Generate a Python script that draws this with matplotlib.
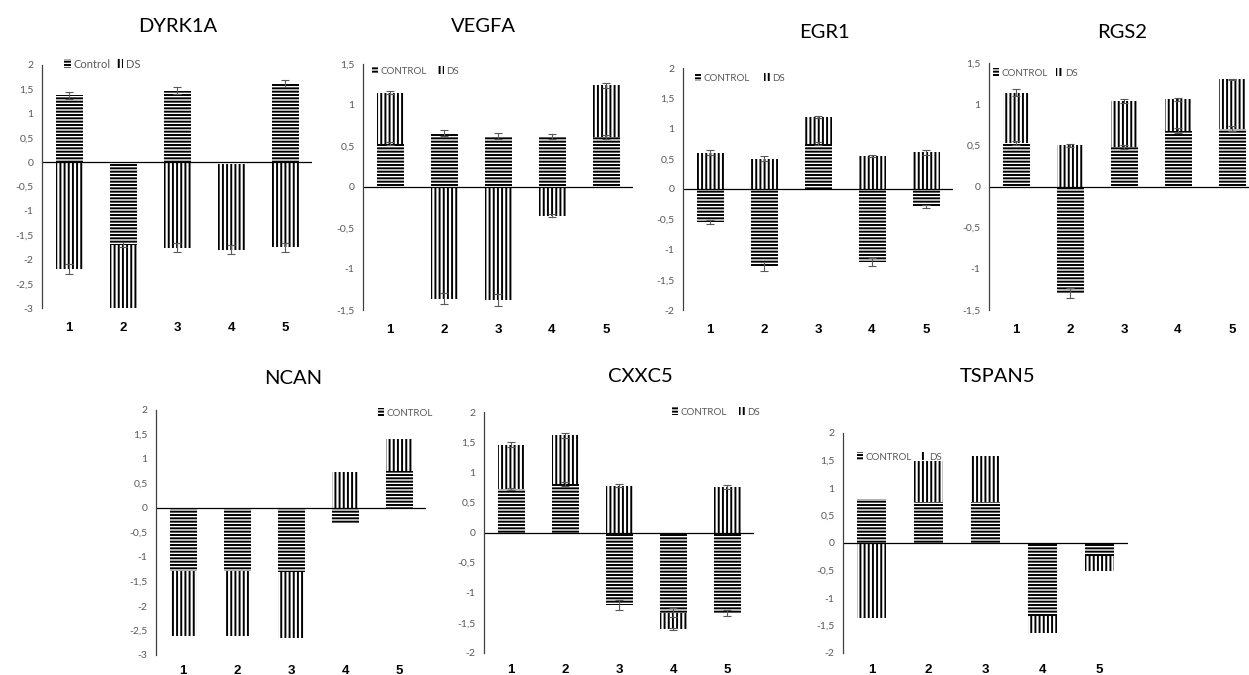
import matplotlib
matplotlib.use('Agg')
import matplotlib.pyplot as plt
from matplotlib.patches import Patch
import numpy as np

plt.rcParams['font.family'] = ['Lato', 'DejaVu Sans']
plt.rcParams['hatch.linewidth'] = 1.4

groups = ['1', '2', '3', '4', '5']

# values (Control = horizontal hatch, DS = vertical hatch)
dyrk1a_ctrl = [1.38, -1.70, 1.47, -0.03, 1.62]
dyrk1a_ds = [-2.20, -1.32, -1.76, -1.77, -1.75]
dyrk1a_ctrl_err = [0.07, 0.05, 0.07, 0, 0.08]
dyrk1a_ds_err = [0.10, 0, 0.09, 0.09, 0.09]

vegfa_ctrl = [0.53, 0.66, 0.62, 0.62, 0.61]
vegfa_ds = [0.62, -1.36, -1.38, -0.35, 0.63]
vegfa_ctrl_err = [0.02, 0.035, 0.04, 0.03, 0.02]
vegfa_ds_err = [0.02, 0.065, 0.07, 0.02, 0.03]

egr1_ctrl = [-0.55, -1.28, 0.75, -1.21, -0.29]
egr1_ds = [0.60, 0.50, 0.44, 0.55, 0.61]
egr1_ctrl_err = [0.03, 0.07, 0.03, 0.07, 0.02]
egr1_ds_err = [0.04, 0.04, 0.02, 0.02, 0.04]

rgs2_ctrl = [0.53, -1.29, 0.48, 0.68, 0.70]
rgs2_ds = [0.61, 0.50, 0.56, 0.38, 0.60]
rgs2_ctrl_err = [0.02, 0.06, 0.03, 0.03, 0.03]
rgs2_ds_err = [0.04, 0.02, 0.02, 0.02, 0.01]

ncan_ctrl = [-1.28, -1.29, -1.31, -0.33, 0.76]
ncan_ds = [-1.34, -1.32, -1.35, 0.73, 0.65]

cxxc5_ctrl = [0.72, 0.80, -1.20, -1.33, -1.33]
cxxc5_ds = [0.74, 0.81, 0.78, -0.27, 0.76]
cxxc5_ctrl_err = [0.02, 0.03, 0.08, 0.07, 0.05]
cxxc5_ds_err = [0.04, 0.04, 0.03, 0.02, 0.03]

tspan5_ctrl = [0.80, 0.75, 0.75, -1.32, -0.23]
tspan5_ds = [-1.36, 0.75, 0.83, -0.32, -0.27]

W, H = 1249, 675
fig = plt.figure(figsize=(W / 100, H / 100), dpi=100)

CTRL_HATCH = '-----'
DS_HATCH = '||||'


def px_axes(left, right, top, bottom):
    return fig.add_axes([left / W, 1 - bottom / H, (right - left) / W, (bottom - top) / H])


def draw_panel(ax, ctrl, ds, ylim, ctrl_err=None, ds_err=None, xpad=10):
    x = np.arange(len(groups))
    ctrl = np.array(ctrl)
    ds = np.array(ds)
    # Excel-style stacking: same-sign values stack, opposite signs start at 0
    ds_bottom = np.where(np.sign(ds) == np.sign(ctrl), ctrl, 0)
    ax.bar(x, ctrl, 0.5, color='white', edgecolor='black', hatch=CTRL_HATCH, linewidth=0)
    ax.bar(x, ds, 0.5, bottom=ds_bottom, color='white', edgecolor='black', hatch=DS_HATCH, linewidth=0)
    for ends, err in ((ctrl, ctrl_err), (ds_bottom + ds, ds_err)):
        if err is None:
            continue
        err = np.array(err)
        m = err > 0
        ax.errorbar(x[m], ends[m], yerr=err[m], fmt='none', ecolor='#595959',
                    elinewidth=0.8, capsize=3, capthick=0.8)
    ax.axhline(0, color='black', lw=0.9)
    ax.set_xlim(-0.5, 4.5)
    ax.set_ylim(*ylim)
    ticks = np.arange(ylim[0], ylim[1] + 0.01, 0.5)
    ax.set_yticks(ticks)
    ax.set_yticklabels([f'{t:g}'.replace('.', ',') for t in ticks], fontsize=7.5, color='#595959')
    ax.tick_params(axis='y', length=0, pad=6)
    ax.set_xticks(x)
    ax.set_xticklabels(groups, fontweight='bold', fontfamily='Liberation Sans', fontsize=9.5)
    ax.tick_params(axis='x', length=0, pad=xpad)
    for s in ['top', 'right', 'bottom']:
        ax.spines[s].set_visible(False)
    ax.spines['left'].set_color('#404040')
    ax.spines['left'].set_linewidth(0.9)
    ax.patch.set_alpha(0)


def add_title(text, x, y):
    fig.text(x / W, 1 - y / H, text, ha='center', va='center', fontsize=14.5, color='black')


def add_legend(labels, x, y, fontsize=7, colspace=1.1):
    hatches = [CTRL_HATCH, DS_HATCH]
    handles = [Patch(facecolor='white', edgecolor='black', hatch=h, linewidth=0, label=l)
               for h, l in zip(hatches, labels)]
    fig.legend(handles=handles, loc='center left', bbox_to_anchor=(x / W, 1 - y / H),
               ncol=len(labels), frameon=False, fontsize=fontsize, labelcolor='#595959',
               handlelength=0.6, handleheight=0.8, handletextpad=0.3,
               columnspacing=colspace, borderpad=0, borderaxespad=0)


ax = px_axes(42, 312, 65, 308)
draw_panel(ax, dyrk1a_ctrl, dyrk1a_ds, (-3, 2), dyrk1a_ctrl_err, dyrk1a_ds_err)
add_title('DYRK1A', 178, 27)
add_legend(['Control', 'DS'], 64, 64, fontsize=8, colspace=0.45)

ax = px_axes(363, 633, 64, 310)
draw_panel(ax, vegfa_ctrl, vegfa_ds, (-1.5, 1.5), vegfa_ctrl_err, vegfa_ds_err)
add_title('VEGFA', 483, 27)
add_legend(['CONTROL', 'DS'], 372, 71, colspace=1.1)

ax = px_axes(683, 953, 68, 310)
draw_panel(ax, egr1_ctrl, egr1_ds, (-2, 2), egr1_ctrl_err, egr1_ds_err)
add_title('EGR1', 824, 33)
add_legend(['CONTROL', 'DS'], 695, 78, colspace=1.4)

ax = px_axes(989, 1259, 63, 310)
draw_panel(ax, rgs2_ctrl, rgs2_ds, (-1.5, 1.5), rgs2_ctrl_err, rgs2_ds_err)
add_title('RGS2', 1122, 33)
add_legend(['CONTROL', 'DS'], 993, 73, colspace=0.8)

ax = px_axes(156, 426, 410, 655)
draw_panel(ax, ncan_ctrl, ncan_ds, (-3, 2), xpad=7)
add_title('NCAN', 293, 378)
add_legend(['CONTROL'], 378, 413)

ax = px_axes(484, 754, 412, 653)
draw_panel(ax, cxxc5_ctrl, cxxc5_ds, (-2, 2), cxxc5_ctrl_err, cxxc5_ds_err, xpad=8)
add_title('CXXC5', 640, 377)
add_legend(['CONTROL', 'DS'], 672, 412, colspace=1.2)

ax = px_axes(843, 1128, 433, 653)
draw_panel(ax, tspan5_ctrl, tspan5_ds, (-2, 2), xpad=8)
add_title('TSPAN5', 998, 377)
add_legend(['CONTROL', 'DS'], 857, 457, colspace=0.8)

fig.savefig('out.png', dpi=100)
